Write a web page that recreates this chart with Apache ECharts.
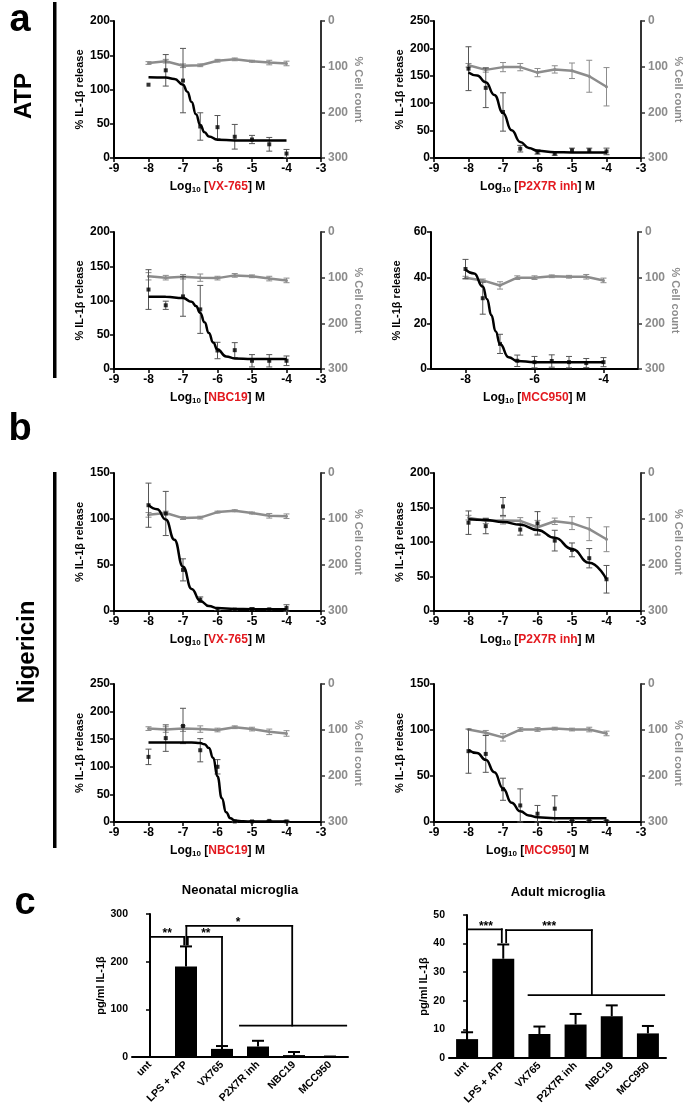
<!DOCTYPE html>
<html><head><meta charset="utf-8">
<script src="https://cdn.jsdelivr.net/npm/echarts@6/dist/echarts.min.js"></script>
<style>html,body{margin:0;padding:0;background:#fff}#c{width:685px;height:1114px}</style>
</head><body><div id="c"></div>
<script>
const FONT = '"Liberation Sans", Arial, Helvetica, sans-serif';
const RED = '#e3191f';
const GRAY = '#8c8c8c';

// ---------- dose-response data ----------
const doseX = [-8, -7.5, -7, -6.5, -6, -5.5, -5, -4.5, -4];
const xTickValues = [-9, -8, -7, -6, -5, -4, -3];
const evenTickValues = [-8, -6, -4];

// a: ATP, VX-765
const atpVxMean = [107, 128, 113, 46, 45, 31, 27, 20, 6.5];
const atpVxSem = [0, 23, 47, 20, 17, 18, 6, 10, 6];
const atpVxCell = [92, 88, 98, 97, 87, 84, 88, 91, 93];
const atpVxCellSem = [3, 4, 4, 3, 3, 3, 2, 5, 5];
const atpVxFitX = [-8, -7.5, -7.25, -7, -6.875, -6.75, -6.625, -6.5, -6.375, -6.25, -6, -5.5, -5, -4];
const atpVxFitY = [118, 117.4, 115.4, 106.9, 96.8, 81.7, 63.9, 48.3, 37.6, 31.5, 26.8, 25.6, 25.5, 25.5];

// a: ATP, P2X7R inh
const atpP2Mean = [163, 128, 84, 17, 11, 8, 14, 14, 12];
const atpP2Sem = [40, 36, 35, 6, 4, 3, 4, 4, 6];
const atpP2Cell = [97, 107, 101, 101, 113, 106, 109, 121, 144];
const atpP2CellSem = [4, 5, 10, 8, 9, 8, 17, 35, 42];
const atpP2FitX = [-8, -7.75, -7.5, -7.25, -7, -6.75, -6.5, -6.25, -6, -5.5, -5, -4];
const atpP2FitY = [156, 150.4, 138.1, 115, 82.3, 50.5, 29.3, 18.3, 13.4, 10.6, 10.1, 10];

// a: ATP, NBC19
const atpNbMean = [116, 93, 106, 87, 27, 27.5, 12, 12, 12];
const atpNbSem = [29, 6, 29, 35, 12, 11, 9, 9, 7];
const atpNbCell = [97, 100, 98, 100, 101, 95, 97, 102, 106];
const atpNbCellSem = [8, 5, 5, 8, 4, 4, 3, 5, 5];
const atpNbFitX = [-8, -7.5, -7, -6.75, -6.625, -6.5, -6.375, -6.25, -6.125, -6, -5.75, -5.5, -5, -4];
const atpNbFitY = [105.5, 105.4, 103.5, 98.1, 92.0, 81.9, 68.1, 52.5, 38.6, 28.4, 18.4, 15.5, 14.6, 14.5];

// a: ATP, MCC950
const atpMcMean = [43.8, 31, 11, 3.6, 3, 3.5, 3, 2.6, 3];
const atpMcSem = [4.2, 7, 4.2, 2.5, 2.5, 2.7, 2.5, 2, 2];
const atpMcCell = [100, 106, 117, 100, 100, 97, 98, 98, 106];
const atpMcCellSem = [3, 3, 8, 4, 4, 3, 3, 5, 5];
const atpMcFitX = [-8, -7.75, -7.5, -7.375, -7.25, -7.125, -7, -6.75, -6.5, -6, -5, -4];
const atpMcFitY = [43.5, 41.8, 36.1, 30.6, 23.5, 16.4, 10.9, 5.2, 3.5, 3.0, 3, 3];

// b: Nigericin, VX-765
const nigVxMean = [115, 106, 44.7, 12.3, 2, 1.5, 2, 1.8, 3.3];
const nigVxSem = [24, 24, 12, 3, 1.5, 1, 1.5, 1, 3.5];
const nigVxCell = [91, 87, 98, 97, 85, 82, 87, 93, 94];
const nigVxCellSem = [5, 4, 3, 3, 2, 2, 2, 5, 5];
const nigVxFitX = [-8, -7.75, -7.5, -7.25, -7, -6.75, -6.5, -6.25, -6, -5.5, -5, -4];
const nigVxFitY = [115.3, 110.7, 99.4, 77.5, 48.1, 24.0, 10.9, 5.3, 3.2, 2.2, 2.0, 2];

// b: Nigericin, P2X7R inh
const nigP2Mean = [128, 123, 151.5, 118, 127, 102, 88.6, 76.5, 46];
const nigP2Sem = [17, 11, 13, 8, 17, 15, 10, 14, 20];
const nigP2Cell = [97, 104, 103, 104, 118, 105, 109, 122, 144];
const nigP2CellSem = [5, 6, 8, 7, 15, 7, 14, 25, 27];
const nigP2FitX = [-8, -7.5, -7, -6.5, -6, -5.5, -5, -4.5, -4];
const nigP2FitY = [133, 132, 129, 125, 117.5, 106, 90, 70, 46];

// b: Nigericin, NBC19
const nigNbMean = [118, 152, 174, 130, 100, 1, 1, 2, 1];
const nigNbSem = [14, 24, 32, 21, 13, 1, 1, 1, 2];
const nigNbCell = [97, 99, 97, 98, 100, 94, 98, 104, 107.5];
const nigNbCellSem = [4, 6, 6, 7, 4, 3, 4, 6, 6];
const nigNbFitX = [-8, -6.75, -6.5, -6.375, -6.25, -6.125, -6, -5.875, -5.75, -5.625, -5.5, -5.25, -5, -4];
const nigNbFitY = [144, 144, 142.9, 140.7, 133.9, 116.3, 82.3, 43, 17.6, 6.7, 2.9, 1.2, 1, 1];

// b: Nigericin, MCC950
const nigMcMean = [77, 74, 35.6, 18, 9, 14.5, 1, 1, 1];
const nigMcSem = [24, 20, 12, 18, 9, 14, 0.5, 0.5, 0.5];
const nigMcCell = [99, 106, 116, 99, 99, 97, 99, 99, 107.5];
const nigMcCellSem = [0, 5, 8, 4, 4, 3, 3, 5, 5];
const nigMcFitX = [-8, -7.75, -7.5, -7.25, -7, -6.75, -6.5, -6.25, -6, -5.5, -5, -4];
const nigMcFitY = [78.3, 74.9, 67.6, 54.2, 36.5, 21.0, 11.6, 7.1, 5.2, 4.2, 4.0, 4];

// ---------- panel c data ----------
const barCategories = ['unt', 'LPS + ATP', 'VX765', 'P2X7R inh', 'NBC19', 'MCC950'];
const neoMean = [0, 190, 17, 22, 4, 0.5];
const neoErr = [0, 42, 6, 12, 6.5, 0.5];
const adultMean = [6.6, 34.7, 8.4, 11.7, 14.6, 8.6];
const adultErr = [2.4, 5, 2.6, 3.7, 3.8, 2.6];
const neoBrackets = [
  [[0, 13], [0, 252], [0.95, 252], [0.95, 236]],
  [[1.05, 236], [1.05, 252], [2, 252], [2, 24]],
  [[1.01, 236], [1.01, 275], [3.95, 275], [3.95, 66]],
  [[2.5, 66], [5.45, 66]]
];
const neoStars = [['**', 0.48, 252], ['**', 1.55, 252], ['*', 2.45, 275]];
const adultBrackets = [
  [[0, 10.5], [0, 45], [0.96, 45], [0.96, 40.5]],
  [[1.08, 40.5], [1.08, 44.7], [3.45, 44.7], [3.45, 22]],
  [[1.7, 22], [5.45, 22]]
];
const adultStars = [['***', 0.52, 45], ['***', 2.27, 44.7]];

// ---------- layout ----------
const panels = [
  {drug: 'VX-765', yMax: 200, yStep: 50, mean: atpVxMean, sem: atpVxSem, cell: atpVxCell, cellSem: atpVxCellSem, fitX: atpVxFitX, fitY: atpVxFitY, left: 114, top: 21, h: 137},
  {drug: 'P2X7R inh', yMax: 250, yStep: 50, mean: atpP2Mean, sem: atpP2Sem, cell: atpP2Cell, cellSem: atpP2CellSem, fitX: atpP2FitX, fitY: atpP2FitY, left: 434, top: 21, h: 137},
  {drug: 'NBC19', yMax: 200, yStep: 50, mean: atpNbMean, sem: atpNbSem, cell: atpNbCell, cellSem: atpNbCellSem, fitX: atpNbFitX, fitY: atpNbFitY, left: 114, top: 232, h: 137},
  {drug: 'MCC950', yMax: 60, yStep: 20, mean: atpMcMean, sem: atpMcSem, cell: atpMcCell, cellSem: atpMcCellSem, fitX: atpMcFitX, fitY: atpMcFitY, left: 431, top: 232, h: 137, even: true},
  {drug: 'VX-765', yMax: 150, yStep: 50, mean: nigVxMean, sem: nigVxSem, cell: nigVxCell, cellSem: nigVxCellSem, fitX: nigVxFitX, fitY: nigVxFitY, left: 114, top: 473, h: 138},
  {drug: 'P2X7R inh', yMax: 200, yStep: 50, mean: nigP2Mean, sem: nigP2Sem, cell: nigP2Cell, cellSem: nigP2CellSem, fitX: nigP2FitX, fitY: nigP2FitY, left: 434, top: 473, h: 138},
  {drug: 'NBC19', yMax: 250, yStep: 50, mean: nigNbMean, sem: nigNbSem, cell: nigNbCell, cellSem: nigNbCellSem, fitX: nigNbFitX, fitY: nigNbFitY, left: 114, top: 684, h: 138},
  {drug: 'MCC950', yMax: 150, yStep: 50, mean: nigMcMean, sem: nigMcSem, cell: nigMcCell, cellSem: nigMcCellSem, fitX: nigMcFitX, fitY: nigMcFitY, left: 434, top: 684, h: 138}
];

function errBar(color, lw, capW, upOnly) {
  return function (params, api) {
    const x = api.value(0), m = api.value(1), e = api.value(2);
    if (!(e > 0)) return;
    const a = api.coord([x, m + e]);
    const b = api.coord([x, upOnly ? m : m - e]);
    const st = {stroke: color, lineWidth: lw};
    const ch = [
      {type: 'line', shape: {x1: a[0], y1: a[1], x2: b[0], y2: b[1]}, style: st},
      {type: 'line', shape: {x1: a[0] - capW / 2, y1: a[1], x2: a[0] + capW / 2, y2: a[1]}, style: st}
    ];
    if (!upOnly) ch.push({type: 'line', shape: {x1: b[0] - capW / 2, y1: b[1], x2: b[0] + capW / 2, y2: b[1]}, style: st});
    return {type: 'group', children: ch};
  };
}

const grid = [], xAxis = [], yAxis = [], series = [];
const lbl = (size, color) => ({fontWeight: 'bold', fontSize: size, color: color || '#000', fontFamily: FONT});

panels.forEach((p, i) => {
  grid.push({left: p.left, top: p.top, width: 207, height: p.h});
  const xa = {
    gridIndex: i, type: 'value', min: -9, max: -3, interval: 1,
    axisLine: {onZero: false, lineStyle: {color: '#000', width: 2}},
    axisTick: {length: 4, lineStyle: {color: '#000', width: 1.5}},
    axisLabel: Object.assign({margin: 5}, lbl(12)),
    splitLine: {show: false},
    name: '{b|Log}{s|10}{b| [}{r|' + p.drug + '}{b|] M}',
    nameLocation: 'middle', nameGap: 21,
    nameTextStyle: {rich: {
      b: lbl(12),
      s: {fontWeight: 'bold', fontSize: 8, color: '#000', fontFamily: FONT, padding: [7, 0, 0, 0]},
      r: lbl(12, RED)
    }}
  };
  if (p.even) {
    xa.axisLabel.customValues = evenTickValues;
    xa.axisTick.customValues = evenTickValues;
  }
  xAxis.push(xa);
  yAxis.push({
    gridIndex: i, type: 'value', min: 0, max: p.yMax, interval: p.yStep, position: 'left',
    axisLine: {show: true, onZero: false, lineStyle: {color: '#000', width: 2}},
    axisTick: {show: true, length: 4, lineStyle: {color: '#000', width: 1.5}},
    axisLabel: Object.assign({margin: 4}, lbl(12)),
    splitLine: {show: false},
    name: '% IL-1β release', nameLocation: 'middle', nameGap: 29,
    nameTextStyle: lbl(11)
  });
  yAxis.push({
    gridIndex: i, type: 'value', min: 0, max: 300, interval: 100, inverse: true, position: 'right',
    axisLine: {show: true, onZero: false, lineStyle: {color: '#333', width: 2}},
    axisTick: {show: true, length: 4, lineStyle: {color: '#333', width: 1.5}},
    axisLabel: Object.assign({margin: 7}, lbl(12, GRAY)),
    splitLine: {show: false},
    name: '% Cell count', nameLocation: 'middle', nameGap: 32, nameRotate: -90,
    nameTextStyle: lbl(11, GRAY)
  });
  const yl = 2 * i, yr = 2 * i + 1;
  series.push({
    type: 'line', xAxisIndex: i, yAxisIndex: yr, silent: true, z: 2,
    data: doseX.map((x, k) => [x, p.cell[k]]),
    lineStyle: {color: GRAY, width: 2.5}, symbol: 'circle', symbolSize: 3,
    itemStyle: {color: GRAY}
  });
  series.push({
    type: 'custom', xAxisIndex: i, yAxisIndex: yr, silent: true, z: 2,
    data: doseX.map((x, k) => [x, p.cell[k], p.cellSem[k]]),
    encode: {x: 0, y: 1}, renderItem: errBar(GRAY, 1, 6, false)
  });
  series.push({
    type: 'custom', xAxisIndex: i, yAxisIndex: yl, silent: true, z: 3,
    data: doseX.map((x, k) => [x, p.mean[k], p.sem[k]]),
    encode: {x: 0, y: 1}, renderItem: errBar('#555', 1, 6, false)
  });
  series.push({
    type: 'line', xAxisIndex: i, yAxisIndex: yl, silent: true, z: 4,
    data: p.fitX.map((x, k) => [x, p.fitY[k]]),
    smooth: 0.5, smoothMonotone: 'x', showSymbol: false,
    lineStyle: {color: '#000', width: 2.5}
  });
  series.push({
    type: 'scatter', xAxisIndex: i, yAxisIndex: yl, silent: true, z: 5,
    data: doseX.map((x, k) => [x, p.mean[k]]),
    symbol: 'rect', symbolSize: 4, itemStyle: {color: '#000'}
  });
});

// ---------- panel c ----------
const bars = [
  {left: 132, top: 914, width: 216, height: 143, yMax: 300, yStep: 100, mean: neoMean, err: neoErr, brackets: neoBrackets, stars: neoStars, gap: 25},
  {left: 449, top: 915, width: 217, height: 143, yMax: 50, yStep: 10, mean: adultMean, err: adultErr, brackets: adultBrackets, stars: adultStars, gap: 18}
];
const nP = panels.length;
bars.forEach((b, j) => {
  grid.push({left: b.left, top: b.top, width: b.width, height: b.height});
});
bars.forEach((b, j) => {
  xAxis.push({
    gridIndex: nP + j, type: 'category', data: barCategories,
    axisLine: {lineStyle: {color: '#000', width: 2}},
    axisTick: {alignWithLabel: true, length: 4, lineStyle: {color: '#000', width: 1.5}},
    axisLabel: Object.assign({rotate: 45, interval: 0, margin: 6}, lbl(10.5))
  });
});
bars.forEach((b, j) => {
  xAxis.push({gridIndex: nP + j, type: 'value', min: -0.5, max: 5.5, show: false});
});
bars.forEach((b, j) => {
  yAxis.push({
    gridIndex: nP + j, type: 'value', min: 0, max: b.yMax, interval: b.yStep,
    axisLine: {show: true, lineStyle: {color: '#000', width: 2}},
    axisTick: {show: true, length: 4, lineStyle: {color: '#000', width: 1.5}},
    axisLabel: Object.assign({margin: 4}, lbl(10.5)),
    splitLine: {show: false},
    name: 'pg/ml IL-1β', nameLocation: 'middle', nameGap: b.gap,
    nameTextStyle: lbl(11)
  });
});
bars.forEach((b, j) => {
  const xc = nP + j, xv = nP + 2 + j, y = 2 * nP + j;
  series.push({
    type: 'bar', xAxisIndex: xc, yAxisIndex: y, silent: true, data: b.mean,
    barWidth: 22, itemStyle: {color: '#000'}
  });
  series.push({
    type: 'custom', xAxisIndex: xv, yAxisIndex: y, silent: true, z: 3,
    data: b.mean.map((m, k) => [k, m, b.err[k]]),
    encode: {x: 0, y: 1}, renderItem: errBar('#000', 2, 12, true)
  });
  series.push({
    type: 'custom', xAxisIndex: xv, yAxisIndex: y, silent: true, z: 4, clip: false,
    data: b.brackets.map((br, k) => [br[0][0], br[0][1]]),
    encode: {x: 0, y: 1},
    renderItem: function (params, api) {
      const pts = b.brackets[params.dataIndex].map(pt => api.coord(pt));
      const ch = [];
      for (let k = 0; k < pts.length - 1; k++) {
        ch.push({type: 'line', shape: {x1: pts[k][0], y1: pts[k][1], x2: pts[k + 1][0], y2: pts[k + 1][1]},
          style: {stroke: '#000', lineWidth: 1.8, lineCap: 'square'}});
      }
      return {type: 'group', children: ch};
    }
  });
  series.push({
    type: 'custom', xAxisIndex: xv, yAxisIndex: y, silent: true, z: 5, clip: false,
    data: b.stars.map(s => [s[1], s[2]]),
    encode: {x: 0, y: 1},
    renderItem: function (params, api) {
      const s = b.stars[params.dataIndex];
      const c = api.coord([s[1], s[2]]);
      return {type: 'text', x: c[0], y: c[1] + 3, style: {text: s[0], align: 'center', verticalAlign: 'bottom', font: 'bold 12px ' + FONT, fill: '#000'}};
    }
  });
});

const graphic = [
  {type: 'rect', shape: {x: 53, y: 2, width: 3.5, height: 376}, style: {fill: '#000'}},
  {type: 'rect', shape: {x: 53, y: 472, width: 3.5, height: 376}, style: {fill: '#000'}},
  {type: 'text', x: 20, y: 21, style: {text: 'a', align: 'center', verticalAlign: 'middle', font: 'bold 38px ' + FONT, fill: '#000'}},
  {type: 'text', x: 20, y: 430, style: {text: 'b', align: 'center', verticalAlign: 'middle', font: 'bold 38px ' + FONT, fill: '#000'}},
  {type: 'text', x: 25, y: 904, style: {text: 'c', align: 'center', verticalAlign: 'middle', font: 'bold 38px ' + FONT, fill: '#000'}},
  {type: 'text', x: 24, y: 96, rotation: Math.PI / 2, style: {text: 'ATP', align: 'center', verticalAlign: 'middle', font: 'bold 24px ' + FONT, fill: '#000'}},
  {type: 'text', x: 27, y: 652, rotation: Math.PI / 2, style: {text: 'Nigericin', align: 'center', verticalAlign: 'middle', font: 'bold 24px ' + FONT, fill: '#000'}},
  {type: 'text', x: 240, y: 890, style: {text: 'Neonatal microglia', align: 'center', verticalAlign: 'middle', font: 'bold 13px ' + FONT, fill: '#000'}},
  {type: 'text', x: 558, y: 892, style: {text: 'Adult microglia', align: 'center', verticalAlign: 'middle', font: 'bold 13px ' + FONT, fill: '#000'}}
];

const chart = echarts.init(document.getElementById('c'), null, {renderer: 'canvas'});
chart.setOption({
  animation: false,
  backgroundColor: '#fff',
  grid: grid, xAxis: xAxis, yAxis: yAxis, series: series, graphic: graphic
});
</script></body></html>
